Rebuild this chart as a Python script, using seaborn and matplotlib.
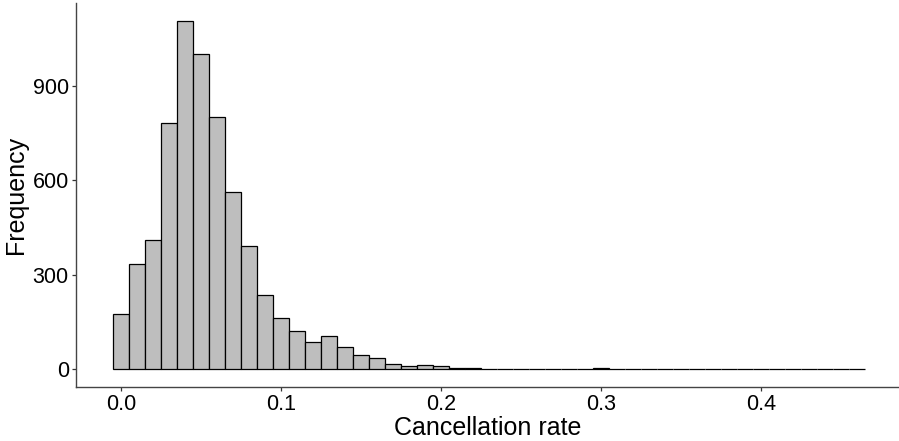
import numpy as np
import pandas as pd
import matplotlib
matplotlib.use("Agg")
import matplotlib.pyplot as plt
import seaborn as sns

# Bin centers (cancellation rate) and counts
bin_centers = [round(0.01 * i, 2) for i in range(47)]
counts = [175, 333, 410, 782, 1105, 1003, 801, 564, 393, 237,
          162, 123, 88, 106, 72, 44, 35, 17, 10, 13,
          11, 5, 4, 1, 2, 1, 0, 2, 1, 1,
          5, 1, 0, 1, 0, 0, 1, 0, 0, 0,
          2, 0, 1, 0, 0, 0, 2]
x_ticks = [0.0, 0.1, 0.2, 0.3, 0.4]
y_ticks = [0, 300, 600, 900]

sns.set_theme(style="ticks")
plt.rcParams['font.family'] = ['Liberation Sans', 'DejaVu Sans']
plt.rcParams['text.color'] = 'black'
plt.rcParams['axes.labelcolor'] = 'black'

df = pd.DataFrame({"rate": bin_centers, "n": counts})

W, H = 899, 441
left, bottom, right, top = 75.7, 386.7, 899, 3.3
fig = plt.figure(figsize=(W/100, H/100), dpi=100)
ax = fig.add_axes([left/W, 1 - bottom/H, (right-left)/W, (bottom-top)/H])
sns.histplot(data=df, x="rate", weights="n", binwidth=0.01,
             binrange=(-0.005, 0.465), ax=ax,
             color="#BEBEBE", edgecolor="black", linewidth=0.9, alpha=1)

ax.set_xlim(-0.0283, 0.486)
ax.set_ylim(-55.3, 1162.6)
ax.set_xticks(x_ticks)
ax.set_xticklabels([f"{t:.1f}" for t in x_ticks])
ax.set_yticks(y_ticks)
ax.set_yticklabels([str(t) for t in y_ticks])
ax.tick_params(labelsize=15.5, length=3, width=0.9, color="#333333", labelcolor="black", pad=2)
for s in ["top", "right"]:
    ax.spines[s].set_visible(False)
for s in ["left", "bottom"]:
    ax.spines[s].set_color("#444444")
    ax.spines[s].set_linewidth(1.0)
ax.set_xlabel("Cancellation rate", fontsize=18, labelpad=1, color="black")
ax.set_ylabel("Frequency", fontsize=18, labelpad=3, color="black")

fig.savefig("out.png", dpi=100)
